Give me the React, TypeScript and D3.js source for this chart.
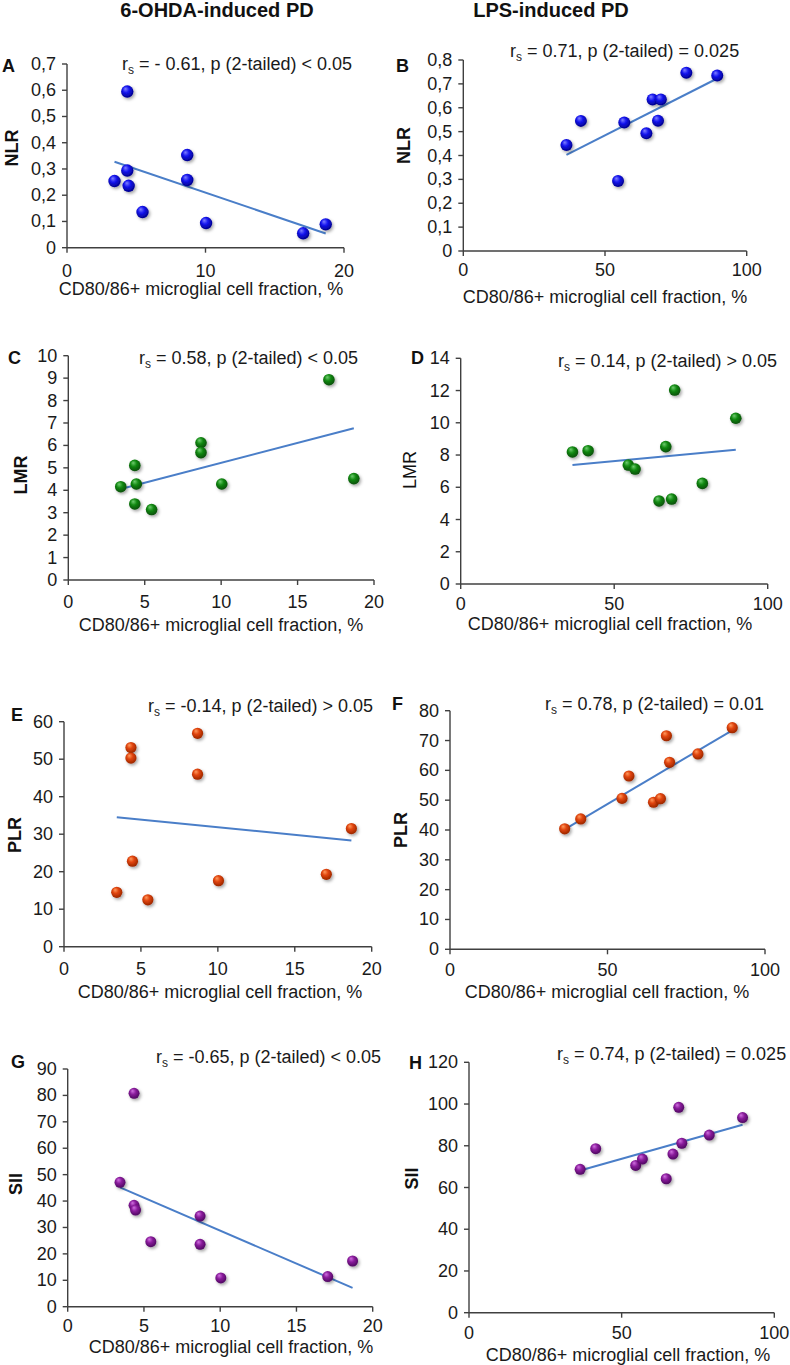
import React from "react";
import * as d3 from "d3";

// ---------- DATA ----------
const ohdaX = [3.43, 4.35, 4.35, 4.45, 5.45, 8.68, 8.68, 10.04, 17.05, 18.68];
const lpsX = [36.4, 41.5, 54.6, 56.8, 64.6, 66.8, 68.7, 69.7, 78.7, 89.6];

const nlrOhda = [0.254, 0.595, 0.294, 0.236, 0.136, 0.353, 0.258, 0.094, 0.055, 0.089];
const nlrLps = [0.444, 0.545, 0.293, 0.538, 0.493, 0.635, 0.546, 0.635, 0.747, 0.735];
const lmrOhda = [4.16, 5.11, 3.39, 4.28, 3.14, 6.12, 5.68, 4.28, 8.93, 4.52];
const lmrLps = [8.19, 8.27, 7.38, 7.13, 5.15, 8.52, 5.27, 12.03, 6.24, 10.28];
const plrOhda = [14.5, 53.1, 50.3, 22.8, 12.5, 56.9, 46.0, 17.6, 19.3, 31.5];
const plrLps = [40.4, 43.7, 50.6, 58.1, 49.3, 50.5, 71.6, 62.7, 65.5, 74.3];
const siiOhda = [47.1, 80.8, 38.4, 36.6, 24.6, 34.3, 23.6, 10.9, 11.4, 17.3];
const siiLps = [68.7, 78.6, 70.6, 73.6, 64.2, 76.0, 98.4, 81.2, 85.1, 93.5];

const ohdaXTicks2 = [0, 10, 20];
const ohdaXTicks4 = [0, 5, 10, 15, 20];
const lpsXTicks = [0, 50, 100];
const nlrOhdaTicks = [0, 0.1, 0.2, 0.3, 0.4, 0.5, 0.6, 0.7];
const nlrLpsTicks = [0, 0.1, 0.2, 0.3, 0.4, 0.5, 0.6, 0.7, 0.8];
const lmrOhdaTicks = [0, 1, 2, 3, 4, 5, 6, 7, 8, 9, 10];
const lmrLpsTicks = [0, 2, 4, 6, 8, 10, 12, 14];
const plrOhdaTicks = [0, 10, 20, 30, 40, 50, 60];
const plrLpsTicks = [0, 10, 20, 30, 40, 50, 60, 70, 80];
const siiOhdaTicks = [0, 10, 20, 30, 40, 50, 60, 70, 80, 90];
const siiLpsTicks = [0, 20, 40, 60, 80, 100, 120];

const columnTitles = ["6-OHDA-induced PD", "LPS-induced PD"];
const xTitle = "CD80/86+ microglial cell fraction, %";
const annotations = [
  " = - 0.61, p (2-tailed) < 0.05",
  " = 0.71, p (2-tailed) = 0.025",
  " = 0.58, p (2-tailed) < 0.05",
  " = 0.14, p (2-tailed) > 0.05",
  " = -0.14, p (2-tailed) > 0.05",
  " = 0.78, p (2-tailed) = 0.01",
  " = -0.65, p (2-tailed) < 0.05",
  " = 0.74, p (2-tailed) = 0.025",
];

// ---------- STYLE ----------
const FONT = "'Liberation Sans', Arial, Helvetica, sans-serif";
const AXIS = "#404040";
const TREND = "#4a7ec8";
const colors: Record<string, [string, string, string]> = {
  blue: ["#8080ff", "#1414ee", "#00008a"],
  green: ["#70cc70", "#138a13", "#064e06"],
  orange: ["#ff9a60", "#e0440c", "#9a2600"],
  purple: ["#d070e0", "#8a1c9c", "#4e0760"],
};

type Panel = {
  letter: string;
  xs: number[];
  ys: number[];
  xMax: number;
  xTicks: number[];
  yMax: number;
  yTicks: number[];
  comma: boolean;
  color: string;
  yTitle: string;
  yBold: boolean;
  ann: string;
  x0: number; x1: number; yTop: number; yBot: number;
  letterX: number; letterY: number;
  annX: number; annY: number;
  yTitleX: number; yTitleY: number;
  xTitleX: number; xTitleY: number;
  xLabelDy: number;
  r: number;
};

const panels: Panel[] = [
  { letter: "A", xs: ohdaX, ys: nlrOhda, xMax: 20, xTicks: ohdaXTicks2, yMax: 0.7, yTicks: nlrOhdaTicks, comma: true, color: "blue", yTitle: "NLR", yBold: true, ann: annotations[0],
    x0: 67, x1: 344, yTop: 64, yBot: 247.7, letterX: 2, letterY: 71.5, annX: 122, annY: 70, yTitleX: 12, yTitleY: 148, xTitleX: 201, xTitleY: 295, xLabelDy: 29, r: 6.2 },
  { letter: "B", xs: lpsX, ys: nlrLps, xMax: 100, xTicks: lpsXTicks, yMax: 0.8, yTicks: nlrLpsTicks, comma: true, color: "blue", yTitle: "NLR", yBold: true, ann: annotations[1],
    x0: 463.3, x1: 746.7, yTop: 60, yBot: 251, letterX: 396, letterY: 72, annX: 510, annY: 56.5, yTitleX: 403.5, yTitleY: 145.5, xTitleX: 605, xTitleY: 303, xLabelDy: 25, r: 6 },
  { letter: "C", xs: ohdaX, ys: lmrOhda, xMax: 20, xTicks: ohdaXTicks4, yMax: 10, yTicks: lmrOhdaTicks, comma: false, color: "green", yTitle: "LMR", yBold: true, ann: annotations[2],
    x0: 68.3, x1: 374, yTop: 355.7, yBot: 580, letterX: 8, letterY: 364, annX: 139, annY: 364, yTitleX: 21, yTitleY: 475, xTitleX: 221, xTitleY: 631, xLabelDy: 28, r: 5.8 },
  { letter: "D", xs: lpsX, ys: lmrLps, xMax: 100, xTicks: lpsXTicks, yMax: 14, yTicks: lmrLpsTicks, comma: false, color: "green", yTitle: "LMR", yBold: false, ann: annotations[3],
    x0: 460.7, x1: 767.7, yTop: 358.3, yBot: 584, letterX: 411, letterY: 364, annX: 558, annY: 366.5, yTitleX: 410, yTitleY: 470, xTitleX: 610, xTitleY: 630, xLabelDy: 26, r: 5.8 },
  { letter: "E", xs: ohdaX, ys: plrOhda, xMax: 20, xTicks: ohdaXTicks4, yMax: 60, yTicks: plrOhdaTicks, comma: false, color: "orange", yTitle: "PLR", yBold: true, ann: annotations[4],
    x0: 64, x1: 371.7, yTop: 721.7, yBot: 946.7, letterX: 11, letterY: 721, annX: 148, annY: 711.5, yTitleX: 15, yTitleY: 835, xTitleX: 220, xTitleY: 998, xLabelDy: 28, r: 5.6 },
  { letter: "F", xs: lpsX, ys: plrLps, xMax: 100, xTicks: lpsXTicks, yMax: 80, yTicks: plrLpsTicks, comma: false, color: "orange", yTitle: "PLR", yBold: true, ann: annotations[5],
    x0: 450, x1: 765, yTop: 710.7, yBot: 949.3, letterX: 392, letterY: 710, annX: 545, annY: 710, yTitleX: 401, yTitleY: 830, xTitleX: 607, xTitleY: 998, xLabelDy: 27, r: 5.6 },
  { letter: "G", xs: ohdaX, ys: siiOhda, xMax: 20, xTicks: ohdaXTicks4, yMax: 90, yTicks: siiOhdaTicks, comma: false, color: "purple", yTitle: "SII", yBold: true, ann: annotations[6],
    x0: 67.7, x1: 372.7, yTop: 1069, yBot: 1306.7, letterX: 11, letterY: 1068, annX: 156, annY: 1063, yTitleX: 16, yTitleY: 1184, xTitleX: 231, xTitleY: 1353, xLabelDy: 25.5, r: 5.5 },
  { letter: "H", xs: lpsX, ys: siiLps, xMax: 100, xTicks: lpsXTicks, yMax: 120, yTicks: siiLpsTicks, comma: false, color: "purple", yTitle: "SII", yBold: true, ann: annotations[7],
    x0: 469, x1: 774.3, yTop: 1062.3, yBot: 1312.7, letterX: 409, letterY: 1069, annX: 557, annY: 1060, yTitleX: 411.5, yTitleY: 1178.5, xTitleX: 628, xTitleY: 1360.5, xLabelDy: 26.5, r: 5.5 },
];

function fit(xs: number[], ys: number[]) {
  const mx = d3.mean(xs) as number;
  const my = d3.mean(ys) as number;
  let sxy = 0, sxx = 0;
  xs.forEach((x, i) => { sxy += (x - mx) * (ys[i] - my); sxx += (x - mx) * (x - mx); });
  const b = sxy / sxx;
  const a = my - b * mx;
  const [lo, hi] = d3.extent(xs) as [number, number];
  return [[lo, a + b * lo], [hi, a + b * hi]] as [number, number][];
}

function PanelView({ p }: { p: Panel }) {
  const x = d3.scaleLinear().domain([0, p.xMax]).range([p.x0, p.x1]);
  const y = d3.scaleLinear().domain([0, p.yMax]).range([p.yBot, p.yTop]);
  const fmt = (v: number) => (p.comma ? d3.format("")(+v.toFixed(1)).replace(".", ",") : String(v));
  const line = d3.line<[number, number]>().x((d) => x(d[0])).y((d) => y(d[1]));
  const trend = fit(p.xs, p.ys);
  return (
    <g>
      <line x1={p.x0} x2={p.x0} y1={p.yTop} y2={p.yBot} stroke={AXIS} strokeWidth={1.4} />
      <line x1={p.x0} x2={p.x1} y1={p.yBot} y2={p.yBot} stroke={AXIS} strokeWidth={1.4} />
      {p.yTicks.map((t) => (
        <g key={"y" + t}>
          <line x1={p.x0 - 5} x2={p.x0} y1={y(t)} y2={y(t)} stroke={AXIS} strokeWidth={1.4} />
          <text x={p.x0 - 11} y={y(t)} textAnchor="end" dominantBaseline="central" fontSize={18} fill="#1a1a1a">{fmt(t)}</text>
        </g>
      ))}
      {p.xTicks.map((t) => (
        <g key={"x" + t}>
          <line x1={x(t)} x2={x(t)} y1={p.yBot} y2={p.yBot + 5} stroke={AXIS} strokeWidth={1.4} />
          <text x={x(t)} y={p.yBot + p.xLabelDy} textAnchor="middle" fontSize={18} fill="#1a1a1a">{t}</text>
        </g>
      ))}
      <path d={line(trend) || ""} stroke={TREND} strokeWidth={2} fill="none" />
      {p.xs.map((xv, i) => (
        <circle key={i} cx={x(xv)} cy={y(p.ys[i])} r={p.r} fill={`url(#grad-${p.color})`} filter="url(#shadow)" />
      ))}
      <text x={p.letterX} y={p.letterY} fontSize={18} fontWeight="bold" fill="#111">{p.letter}</text>
      <text x={p.annX} y={p.annY} fontSize={18} fill="#1a1a1a">
        <tspan>r</tspan>
        <tspan dy={4} fontSize={12}>s</tspan>
        <tspan dy={-4}>{p.ann}</tspan>
      </text>
      <text transform={`translate(${p.yTitleX},${p.yTitleY}) rotate(-90)`} textAnchor="middle" dominantBaseline="central" fontSize={18} fontWeight={p.yBold ? "bold" : "normal"} fill="#111">{p.yTitle}</text>
      <text x={p.xTitleX} y={p.xTitleY} textAnchor="middle" fontSize={18} fill="#1a1a1a">{xTitle}</text>
    </g>
  );
}

export default function App() {
  return (
    <svg width={790} height={1365} style={{ position: "absolute", left: 0, top: 0, background: "#fff" }} fontFamily={FONT}>
      <defs>
        {Object.entries(colors).map(([k, [hi, mid, lo]]) => (
          <radialGradient key={k} id={`grad-${k}`} cx="45%" cy="40%" r="60%" fx="35%" fy="28%">
            <stop offset="0%" stopColor={hi} />
            <stop offset="45%" stopColor={mid} />
            <stop offset="100%" stopColor={lo} />
          </radialGradient>
        ))}
        <filter id="shadow" x="-50%" y="-50%" width="200%" height="200%">
          <feDropShadow dx={1.5} dy={1.8} stdDeviation={1.4} floodColor="#000" floodOpacity={0.35} />
        </filter>
      </defs>
      <rect x={0} y={0} width={790} height={1365} fill="#fff" />
      <text x={217} y={17} textAnchor="middle" fontSize={20} fontWeight="bold" fill="#111">{columnTitles[0]}</text>
      <text x={551} y={17} textAnchor="middle" fontSize={20} fontWeight="bold" fill="#111">{columnTitles[1]}</text>
      {panels.map((p) => (
        <PanelView key={p.letter} p={p} />
      ))}
    </svg>
  );
}
